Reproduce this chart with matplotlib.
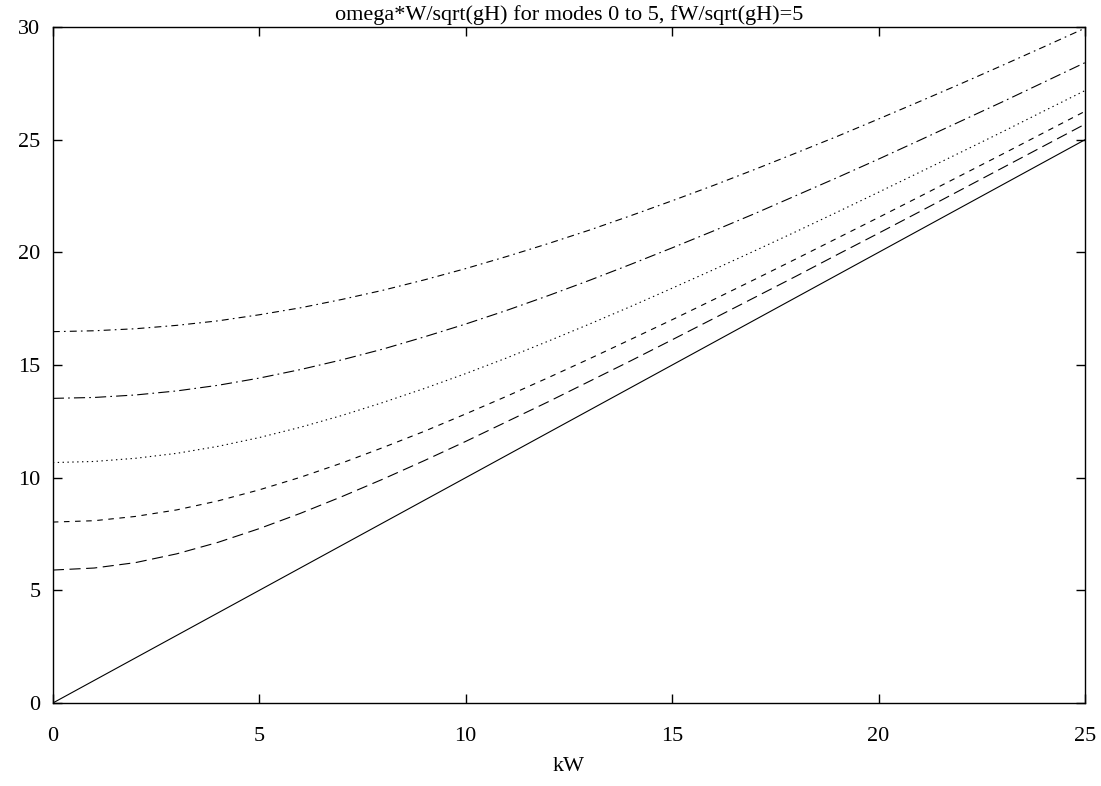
import numpy as np
import matplotlib
matplotlib.use("Agg")
import matplotlib.pyplot as plt

plt.rcParams['font.family'] = ['Liberation Serif', 'DejaVu Serif']
plt.rcParams['lines.scale_dashes'] = False

kw = [0, 1, 2, 3, 4, 5, 6, 7, 8, 9, 10, 11, 12, 13, 14, 15, 16, 17, 18, 19, 20,
      21, 22, 23, 24, 25]

# omega*W/sqrt(gH) for modes 0..5
mode0 = [0, 1, 2, 3, 4, 5, 6, 7, 8, 9, 10, 11, 12, 13, 14, 15, 16, 17, 18, 19,
         20, 21, 22, 23, 24, 25]
mode1 = [5.90, 5.99, 6.23, 6.62, 7.13, 7.74, 8.42, 9.16, 9.94, 10.76, 11.61,
         12.49, 13.37, 14.28, 15.19, 16.12, 17.06, 18.00, 18.94, 19.90, 20.85,
         21.81, 22.78, 23.75, 24.72, 25.69]
mode2 = [8.03, 8.09, 8.28, 8.57, 8.97, 9.46, 10.02, 10.65, 11.34, 12.06, 12.83,
         13.62, 14.44, 15.28, 16.14, 17.01, 17.90, 18.80, 19.71, 20.63, 21.55,
         22.48, 23.42, 24.36, 25.31, 26.26]
mode3 = [10.67, 10.72, 10.86, 11.08, 11.39, 11.78, 12.24, 12.76, 13.34, 13.96,
         14.62, 15.32, 16.06, 16.82, 17.60, 18.41, 19.23, 20.07, 20.92, 21.79,
         22.67, 23.56, 24.45, 25.35, 26.27, 27.18]
mode4 = [13.52, 13.56, 13.67, 13.85, 14.10, 14.42, 14.80, 15.23, 15.71, 16.25,
         16.82, 17.43, 18.08, 18.76, 19.47, 20.20, 20.95, 21.72, 22.52, 23.32,
         24.14, 24.98, 25.83, 26.68, 27.55, 28.42]
mode5 = [16.48, 16.52, 16.61, 16.76, 16.96, 17.23, 17.54, 17.91, 18.32, 18.78,
         19.28, 19.82, 20.39, 20.99, 21.63, 22.29, 22.97, 23.68, 24.41, 25.15,
         25.92, 26.70, 27.49, 28.30, 29.12, 29.95]

modes = [mode0, mode1, mode2, mode3, mode4, mode5]
dash_styles = [None, (8, 4), (4, 4), (1, 2.5), (8, 3, 1.2, 3), (5, 3, 1.2, 3)]

fig = plt.figure(figsize=(11.01, 7.86), dpi=100)
ax = fig.add_axes([0.048, 0.1056, 0.9375, 0.86])

for vals, ds in zip(modes, dash_styles):
    line, = ax.plot(kw, vals, color='black', lw=0.8)
    if ds is not None:
        line.set_dashes(ds)

ax.set_xlim(0, 25)
ax.set_ylim(0, 30)
ax.set_xticks([0, 5, 10, 15, 20, 25])
ax.set_yticks([0, 5, 10, 15, 20, 25, 30])
ax.tick_params(direction='in', length=6.5, width=1, top=True, right=True,
               labelsize=16)
ax.tick_params(axis='x', pad=17)
ax.tick_params(axis='y', pad=9)
for s in ax.spines.values():
    s.set_linewidth(1)

ax.set_xlabel('kW', fontsize=16, labelpad=8)
ax.set_title('omega*W/sqrt(gH) for modes 0 to 5, fW/sqrt(gH)=5', fontsize=16,
             pad=5)

fig.savefig('out.png', dpi=100)
